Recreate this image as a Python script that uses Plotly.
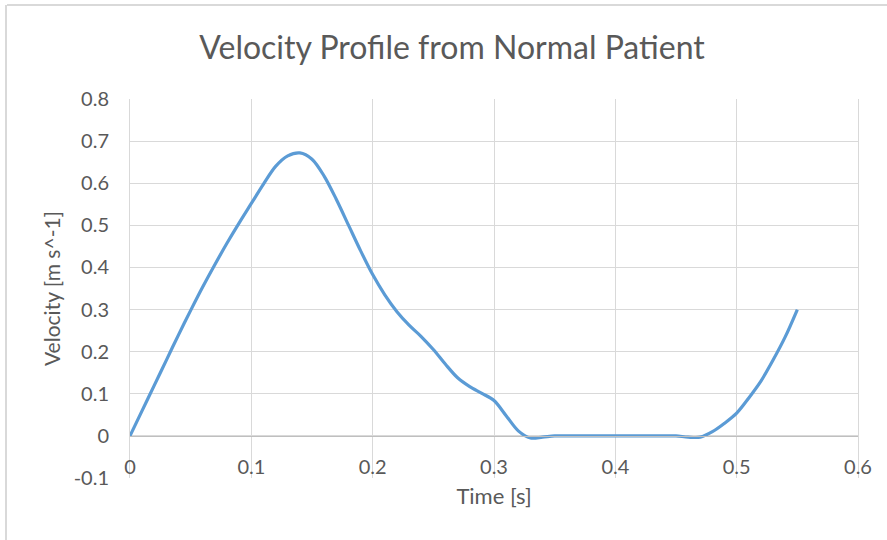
import plotly.graph_objects as go

# Data (time in s, velocity in m/s)
time_s = [0.00, 0.01, 0.02, 0.03, 0.04, 0.05, 0.06, 0.07, 0.08, 0.09,
          0.10, 0.11, 0.12, 0.13, 0.14, 0.15, 0.16, 0.17, 0.18, 0.19,
          0.20, 0.21, 0.22, 0.23, 0.24, 0.25, 0.26, 0.27, 0.28, 0.29,
          0.30, 0.31, 0.32, 0.33, 0.34, 0.35, 0.36, 0.37, 0.38, 0.39,
          0.40, 0.41, 0.42, 0.43, 0.44, 0.45, 0.46, 0.47, 0.48, 0.49,
          0.50, 0.51, 0.52, 0.53, 0.54, 0.55]
velocity = [0.000, 0.060, 0.120, 0.180, 0.240, 0.298, 0.354, 0.407, 0.458, 0.506,
            0.552, 0.598, 0.640, 0.665, 0.672, 0.657, 0.617, 0.562, 0.501, 0.440,
            0.383, 0.335, 0.295, 0.263, 0.236, 0.205, 0.170, 0.138, 0.117, 0.101,
            0.084, 0.048, 0.012, -0.005, -0.003, 0.000, 0.000, 0.000, 0.000, 0.000,
            0.000, 0.000, 0.000, 0.000, 0.000, 0.000, -0.003, -0.003, 0.010, 0.030,
            0.054, 0.090, 0.130, 0.180, 0.235, 0.300]

x_ticks = [0, 0.1, 0.2, 0.3, 0.4, 0.5, 0.6]
x_tick_labels = ["0", "0.1", "0.2", "0.3", "0.4", "0.5", "0.6"]
y_ticks = [-0.1, 0, 0.1, 0.2, 0.3, 0.4, 0.5, 0.6, 0.7, 0.8]
y_tick_labels = ["-0.1", "0", "0.1", "0.2", "0.3", "0.4", "0.5", "0.6", "0.7", "0.8"]

title_text = "Velocity Profile from Normal Patient"
x_title = "Time [s]"
y_title = "Velocity [m s^-1]"

TEXT = "#595959"
GRID = "#D9D9D9"
AXIS = "#BFBFBF"
LINE = "#5B9BD5"
FONT = "Lato, Open Sans, sans-serif"

W, H = 887, 540
ML, MR, MT, MB = 130, 29, 99, 62
PW, PH = W - ML - MR, H - MT - MB

ymin, ymax = -0.1, 0.8

fig = go.Figure()
fig.add_trace(go.Scatter(
    x=time_s, y=velocity, mode="lines",
    line=dict(color=LINE, width=3.2, shape="spline", smoothing=0.9),
    hoverinfo="x+y", showlegend=False,
))

def px_to_paper_x(px):
    return (px - ML) / PW

def px_to_paper_y(py):
    return (H - MB - py) / PH

# chart outline (top and left edges visible in reference)
fig.add_shape(type="line", xref="paper", yref="paper",
              x0=px_to_paper_x(7), x1=px_to_paper_x(W + 5),
              y0=px_to_paper_y(5), y1=px_to_paper_y(5),
              line=dict(color=GRID, width=2))
fig.add_shape(type="line", xref="paper", yref="paper",
              x0=px_to_paper_x(6), x1=px_to_paper_x(6),
              y0=px_to_paper_y(5), y1=px_to_paper_y(H + 5),
              line=dict(color=GRID, width=2))

fig.update_layout(
    width=W, height=H,
    margin=dict(l=ML, r=MR, t=MT, b=MB, autoexpand=False),
    paper_bgcolor="white", plot_bgcolor="white",
    font=dict(family=FONT, color=TEXT, size=20),
    title=dict(text=title_text, x=452 / W, xref="container", xanchor="center",
               y=1 - 48 / H, yanchor="middle", yref="container",
               font=dict(family=FONT, size=32, color=TEXT)),
    xaxis=dict(
        range=[0, 0.6], tickvals=x_ticks, ticktext=x_tick_labels,
        anchor="free", position=(0 - ymin) / (ymax - ymin),
        showgrid=True, gridcolor=GRID, gridwidth=1,
        showline=True, linecolor=AXIS, linewidth=1,
        zeroline=False, ticks="", ticklabelstandoff=13,
        tickfont=dict(size=20, color=TEXT),
        title=dict(text=x_title, font=dict(size=22, color=TEXT), standoff=11),
        automargin=False, fixedrange=True,
    ),
    yaxis=dict(
        range=[ymin, ymax], tickvals=y_ticks, ticktext=y_tick_labels,
        showgrid=True, gridcolor=GRID, gridwidth=1,
        showline=True, linecolor=GRID, linewidth=1, mirror=True,
        zeroline=False, ticks="", ticklabelstandoff=16,
        tickfont=dict(size=20, color=TEXT),
        title=dict(text=y_title, font=dict(size=21, color=TEXT), standoff=7),
        automargin=False, fixedrange=True,
    ),
)

fig.write_html("out.html")
